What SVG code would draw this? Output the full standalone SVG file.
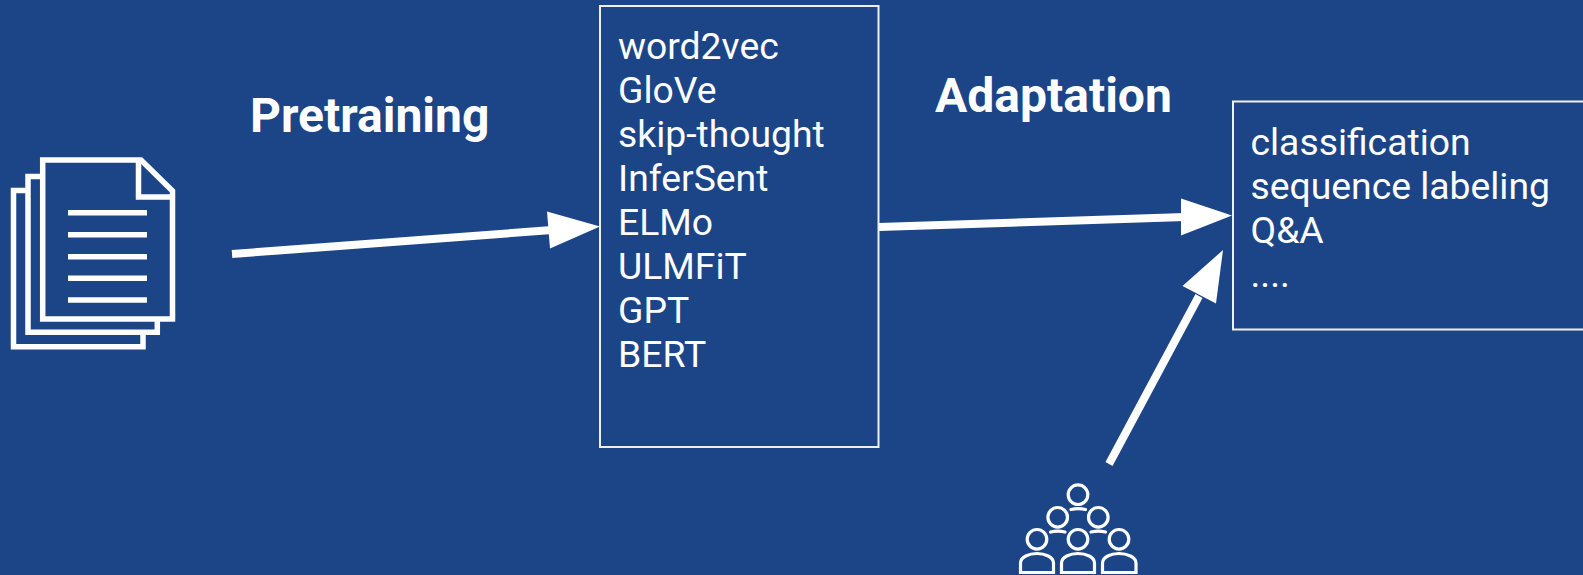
<svg xmlns="http://www.w3.org/2000/svg" width="1583" height="575" viewBox="0 0 1583 575">
<style>
text{font-family:Roboto,"Liberation Sans",sans-serif;fill:#fff}
.item{font-size:37.3px}
.label{font-size:48px;font-weight:700}
.box{fill:none;stroke:#efefef;stroke-width:2}
.ln{fill:none;stroke:#fff;stroke-width:5.5}
.pp{fill:none;stroke:#fff;stroke-width:3.2;stroke-linecap:round}
.wire{stroke:#fff;stroke-width:8;fill:none}
.head{fill:#fff}
</style>
<rect width="1583" height="575" fill="#1c4587"/>
<g id="documents">
<path class="ln" d="M42.7 160H141L172.5 191V319H42.7Z"/>
<path class="ln" d="M138.500 160V197H175"/>
<path class="ln" d="M42 176.500H28V332.300H157.300V319"/>
<path class="ln" d="M28 190.500H13.500V346.700H143V332"/>
<path class="ln" d="M68 212.700H147M68 234.700H147M68 256.700H147M68 278.300H147M68 300H147"/>
</g>
<g id="people">
<circle class="pp" cx="1078" cy="494.700" r="9.800"/>
<circle class="pp" cx="1057.700" cy="517.300" r="9.800"/>
<circle class="pp" cx="1098.300" cy="517.300" r="9.800"/>
<circle class="pp" cx="1037" cy="539.300" r="9.800"/>
<circle class="pp" cx="1078" cy="539.300" r="9.800"/>
<circle class="pp" cx="1119" cy="539.300" r="9.800"/>
<path class="pp" d="M1071 509.500Q1078 507.800 1085.500 509.500M1050.500 532Q1057.700 530.300 1065 532M1091 532Q1098.300 530.300 1105.500 532"/>
<path class="pp" d="M1020.500 572.500V563C1020.500 557 1029 553.500 1037 553.500C1045 553.500 1053.500 557 1053.500 563V572.500ZM1061.500 572.500V563C1061.500 557 1070 553.500 1078 553.500C1086 553.500 1094.500 557 1094.500 563V572.500ZM1102.500 572.500V563C1102.500 557 1111 553.500 1119 553.500C1127 553.500 1136 557 1136 563V572.500Z"/>
</g>
<g id="models">
<rect class="box" x="600" y="6" width="278.500" height="441"/>
<text class="item" x="618" y="59">word2vec</text>
<text class="item" x="618" y="103">GloVe</text>
<text class="item" x="618" y="147">skip-thought</text>
<text class="item" x="618" y="191">InferSent</text>
<text class="item" x="618" y="235">ELMo</text>
<text class="item" x="618" y="279">ULMFiT</text>
<text class="item" x="618" y="323">GPT</text>
<text class="item" x="618" y="367">BERT</text>
</g>
<g id="tasks">
<rect class="box" x="1233" y="101.500" width="360" height="228"/>
<text class="item" x="1250.500" y="154.500">classification</text>
<text class="item" x="1250.500" y="198.500">sequence labeling</text>
<text class="item" x="1250.500" y="242.500">Q&amp;A</text>
<text class="item" x="1250.500" y="286.500">....</text>
</g>
<g id="label-pretraining"><text class="label" x="250" y="132">Pretraining</text></g>
<g id="label-adaptation"><text class="label" x="935" y="112">Adaptation</text></g>
<g id="connectors">
<path class="wire" d="M232 254L552 230"/>
<polygon class="head" points="600,226.500 550,248.500 547,211.500"/>
<path class="wire" d="M879 227L1185 217"/>
<polygon class="head" points="1232,215.500 1181,235.500 1181,198.500"/>
<path class="wire" d="M1109 464L1199 296"/>
<polygon class="head" points="1223,250 1216,303.500 1182.500,286"/>
</g>
</svg>
